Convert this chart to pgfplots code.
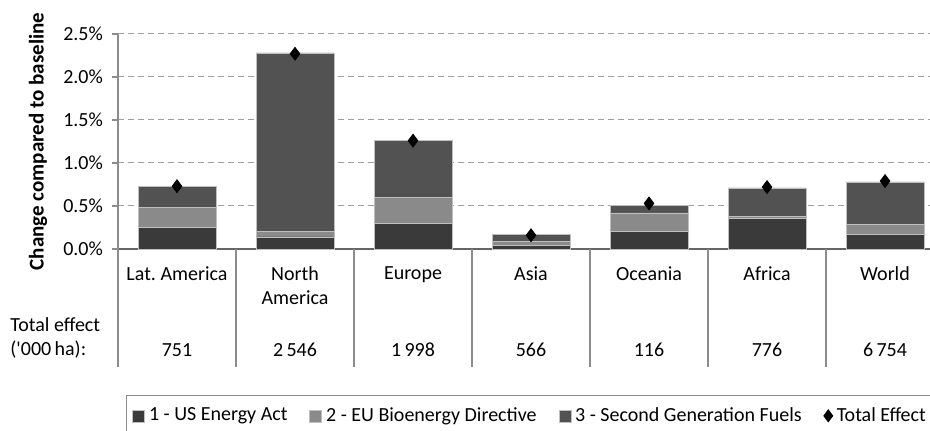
\documentclass[border=0pt]{standalone}
\usepackage{pgfplots}
\pgfplotsset{compat=1.18}
\usepackage{fontspec}
\setmainfont{Carlito}
\definecolor{sA}{HTML}{3A3A3A}
\definecolor{sB}{HTML}{8A8A8A}
\definecolor{sC}{HTML}{525252}
\definecolor{gridc}{HTML}{A0A0A0}
\newcommand{\fs}{\fontsize{10}{12}\selectfont}
\begin{document}
\begin{tikzpicture}[font=\fs]
\path[use as bounding box] (0,0) rectangle (465pt,-215.5pt);
\begin{axis}[
  at={(59pt,-124.5pt)}, anchor=south west,
  scale only axis, width=406pt, height=107.5pt,
  xmin=-0.5, xmax=6.381, ymin=0, ymax=2.5,
  ybar stacked, bar width=39pt,
  axis lines=left, axis line style={-},
  x axis line style={draw=black!60, line width=1pt},
  y axis line style={draw=black!45, line width=0.6pt},
  xtick=\empty,
  ytick={0,0.5,1,1.5,2,2.5},
  ytick style={draw=black!45, line width=0.6pt},
  tick align=outside, major tick length=3pt,
  ymajorgrids, grid style={densely dashed, gridc, line width=0.5pt},
  /pgf/number format/assume math mode=true,
  yticklabel={\pgfmathprintnumber[fixed,fixed zerofill,precision=1]{\tick}\%},
  tick label style={font=\fs},
  yticklabel style={xshift=-1pt},
  ylabel={\textbf{Change compared to baseline}},
  ylabel style={at={(axis description cs:-0.0985,0.5)}, anchor=center, font=\fontsize{10.5}{12}\selectfont},
  clip=false,
  legend columns=4,
  legend style={at={(axis description cs:0.00985,-0.679)}, anchor=north west,
    draw=black!45, font=\fs, inner xsep=3pt, inner ysep=4pt,
    /tikz/every even column/.append style={column sep=9pt}},
  legend image code/.code={\fill[#1] (0pt,-3pt) rectangle (6pt,3pt);},
]
\addplot[fill=sA, draw=black!25, line width=0.3pt] coordinates {(0,0.25) (1,0.14) (2,0.30) (3,0.04) (4,0.20) (5,0.36) (6,0.17)};
\addlegendentry{1 - US Energy Act}
\addplot[fill=sB, draw=black!25, line width=0.3pt] coordinates {(0,0.23) (1,0.06) (2,0.30) (3,0.05) (4,0.22) (5,0.02) (6,0.12)};
\addlegendentry{2 - EU Bioenergy Directive}
\addplot[fill=sC, draw=black!25, line width=0.3pt] coordinates {(0,0.25) (1,2.08) (2,0.66) (3,0.08) (4,0.09) (5,0.33) (6,0.49)};
\addlegendentry{3 - Second Generation Fuels}
\addlegendimage{only marks, mark=diamond*, mark size=3pt, black, legend image code/.code={\draw[mark repeat=2,mark phase=2] plot coordinates {(0cm,0cm) (0.15cm,0cm) (0.3cm,0cm)};}}
\addlegendentry{Total Effect}
\end{axis}
\begin{axis}[
  at={(59pt,-124.5pt)}, anchor=south west,
  scale only axis, width=406pt, height=107.5pt,
  xmin=-0.5, xmax=6.381, ymin=0, ymax=2.5,
  hide axis, clip=false,
]
\addplot[only marks, mark=diamond*, mark size=3.2pt, black] coordinates {(0,0.73) (1,2.27) (2,1.26) (3,0.16) (4,0.53) (5,0.72) (6,0.79)};
\end{axis}
% table separators
\foreach \k in {0,...,6} {
  \draw[black!45, line width=0.6pt] ({(118+118*\k)*0.5pt},-124.5pt) -- ({(118+118*\k)*0.5pt},-183.5pt);
}
% category labels
\foreach \k/\lab in {0/Lat.\ America,1/{North\\America},2/Europe,3/Asia,4/Oceania,5/Africa,6/World} {
  \node[anchor=north, align=center, inner sep=0pt, font=\fs] at ({(177+118*\k)*0.5pt},-133pt) {\lab};
}
\foreach \k/\v in {0/751,1/2\,546,2/1\,998,3/566,4/116,5/776,6/6\,754} {
  \node[anchor=center, inner sep=0pt, font=\fs] at ({(177+118*\k)*0.5pt},-175pt) {\v};
}
\node[anchor=west, inner sep=0pt, font=\fs] at (5pt,-162.5pt) {Total effect};
\node[anchor=west, inner sep=0pt, font=\fs] at (5pt,-175pt) {(\textquotesingle000\,ha):};
\end{tikzpicture}
\end{document}
